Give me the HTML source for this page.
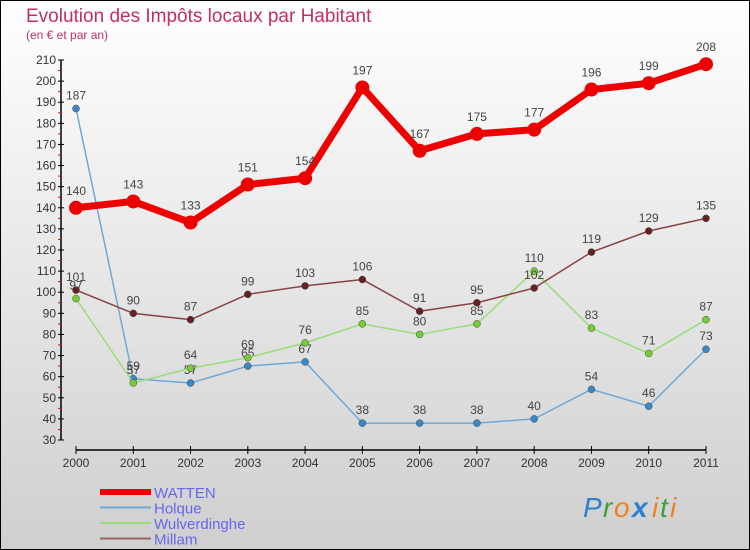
<!DOCTYPE html>
<html><head><meta charset="utf-8"><style>
html,body{margin:0;padding:0;width:750px;height:550px;overflow:hidden}
svg text{font-family:"Liberation Sans",sans-serif}
</style></head><body>
<svg id="chart" width="750" height="550" xmlns="http://www.w3.org/2000/svg">
<defs><linearGradient id="bg" x1="0" y1="0" x2="0" y2="1"><stop offset="0" stop-color="#ffffff"/><stop offset="1" stop-color="#cfcfcf"/></linearGradient></defs>
<rect x="0.5" y="0.5" width="749" height="549" fill="url(#bg)" stroke="#000" stroke-width="1"/>
<text x="26" y="22" font-size="19" fill="#c0315f">Evolution des Impôts locaux par Habitant</text>
<text x="26" y="39" font-size="12" fill="#c0315f">(en € et par an)</text>
<g id="axes"></g>
<g id="series"></g>
<g id="legend"></g>
<g font-size="28" font-family="Liberation Sans,sans-serif" font-style="italic">
<text x="583" y="517" fill="#2b7fd0">P</text><text x="603" y="517" fill="#3aa040">r</text><text x="614" y="517" fill="#f08020">o</text><text x="632" y="517" font-weight="bold" fill="#2b7fd0">x</text><text x="652" y="517" fill="#f08020">i</text><text x="660" y="517" fill="#3aa040">t</text><text x="670" y="517" fill="#f08020">i</text>
</g>
</svg>
<script>
const years=[2000,2001,2002,2003,2004,2005,2006,2007,2008,2009,2010,2011];
const watten=[140,143,133,151,154,197,167,175,177,196,199,208];
const holque=[187,59,57,65,67,38,38,38,40,54,46,73];
const wulverdinghe=[97,57,64,69,76,85,80,85,110,83,71,87];
const millam=[101,90,87,99,103,106,91,95,102,119,129,135];
const yTicks=[30,40,50,60,70,80,90,100,110,120,130,140,150,160,170,180,190,200,210];
const NS='http://www.w3.org/2000/svg';
const X=i=>76+i*(630/11);
const Y=v=>440-(v-30)*(380/180);
function mk(tag,attrs,parent){const e=document.createElementNS(NS,tag);for(const k in attrs)e.setAttribute(k,attrs[k]);parent.appendChild(e);return e;}
const axes=document.getElementById('axes');
const ya=mk('line',{x1:61,y1:Y(210),x2:61,y2:Y(30),stroke:'#000','stroke-width':1.5},axes);


yTicks.forEach(v=>{
 mk('line',{x1:58,y1:Y(v),x2:64,y2:Y(v),stroke:'#000'},axes);
 const t=mk('text',{x:56,y:Y(v)+4,'text-anchor':'end','font-size':12,fill:'#333'},axes);
 t.textContent=v;
 
 
 if(v<210)mk('line',{x1:58,y1:Y(v+5),x2:61,y2:Y(v+5),stroke:'#e00'},axes);
});
const xa=mk('line',{x1:76,y1:450,x2:706,y2:450,stroke:'#000','stroke-width':1.5},axes);


years.forEach((y,i)=>{
 mk('line',{x1:X(i),y1:446,x2:X(i),y2:454,stroke:'#000'},axes);
 const t=mk('text',{x:X(i),y:467,'text-anchor':'middle','font-size':12,fill:'#333'},axes);
 t.textContent=y;
 
 
});
const ser=document.getElementById('series');
function draw(name,data,color,w,r,dot,labelDy){
 const g=mk('g',{},ser);
 
 
 mk('polyline',{points:data.map((v,i)=>X(i)+','+Y(v)).join(' '),fill:'none',stroke:color,'stroke-width':w,'stroke-linejoin':'round'},g);
 data.forEach((v,i)=>{
  const c=mk('circle',{cx:X(i),cy:Y(v),r:r,fill:dot,stroke:w>3?'none':'#444','stroke-width':0.5},g);
  
  
  const t=mk('text',{x:X(i),y:Y(v)-labelDy,'text-anchor':'middle','font-size':12,fill:'#444'},g);
  t.textContent=v;
  
  
 });
}
draw('holque',holque,'#6fa8d8',1.5,3.5,'#3a88c8',9);
draw('wulverdinghe',wulverdinghe,'#99dd77',1.5,3.5,'#77cc33',9);
draw('millam',millam,'#884444',1.5,3.5,'#662222',9);
draw('watten',watten,'#ee0000',7,7,'#ee0000',13);
const lg=document.getElementById('legend');
const items=[['WATTEN','#ee0000',6],['Holque','#6fa8d8',2],['Wulverdinghe','#99dd77',2],['Millam','#996666',2]];
items.forEach((it,i)=>{
 const y=492+i*15.5;
 const l=mk('line',{x1:100,y1:y,x2:151,y2:y,stroke:it[1],'stroke-width':it[2]},lg);
 
 
 const t=mk('text',{x:154,y:y+6,'font-size':15,fill:'#6666ee'},lg);
 t.textContent=it[0];
 
 
});
</script>
</body></html>
